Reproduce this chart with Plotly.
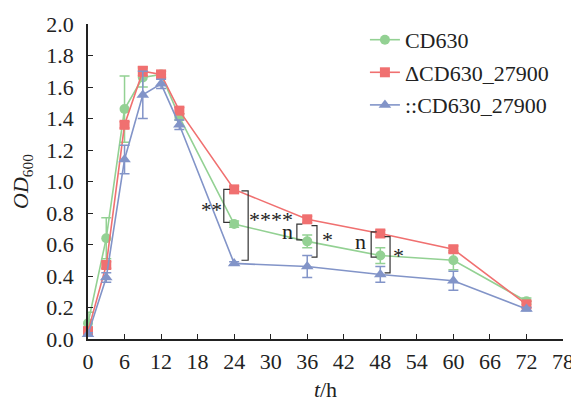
import plotly.graph_objects as go

hours = [0, 3, 6, 9, 12, 15, 24, 36, 48, 60, 72]

wt = [0.10, 0.64, 1.46, 1.66, 1.68, 1.41, 0.73, 0.62, 0.53, 0.50, 0.24]
wt_err = [0.07, 0.13, 0.21, 0.06, 0.02, 0.02, 0.02, 0.04, 0.05, 0.06, 0.02]

ko = [0.05, 0.47, 1.36, 1.70, 1.68, 1.45, 0.95, 0.76, 0.67, 0.57, 0.22]
ko_err = [0.02, 0.02, 0.02, 0.03, 0.02, 0.02, 0.02, 0.02, 0.02, 0.02, 0.02]

comp = [0.03, 0.39, 1.14, 1.55, 1.62, 1.36, 0.48, 0.46, 0.41, 0.37, 0.19]
comp_err = [0.01, 0.03, 0.09, 0.15, 0.03, 0.03, 0.01, 0.07, 0.05, 0.06, 0.01]

names = ["CD630", "ΔCD630_27900", "::CD630_27900"]
x_ticks = list(range(0, 79, 6))
y_ticks = [0.0, 0.2, 0.4, 0.6, 0.8, 1.0, 1.2, 1.4, 1.6, 1.8, 2.0]

FONT = "Liberation Serif"
colors = ["#93D193", "#F07070", "#8294C8"]
symbols = ["circle", "square", "triangle-up"]

fig = go.Figure()
for i, (vals, errs) in enumerate([(wt, wt_err), (ko, ko_err), (comp, comp_err)]):
    fig.add_trace(go.Scatter(
        x=hours, y=vals, name=names[i], mode="lines+markers",
        legendgroup=str(i),
        line=dict(color=colors[i], width=1.6),
        marker=dict(symbol=symbols[i], size=10 if i != 2 else 11, color=colors[i]),
        error_y=dict(type="data", array=errs, visible=True, color=colors[i],
                     thickness=1.5, width=5),
        cliponaxis=False,
    ))

# significance brackets: (t_vertical, t_arm, y_top, y_bottom)
brackets = [
    (22.3, 23.3, 0.95, 0.74),
    (26.3, 25.2, 0.94, 0.50),
    (34.3, 35.2, 0.73, 0.63),
    (37.6, 36.7, 0.72, 0.52),
    (46.5, 47.4, 0.68, 0.52),
    (49.6, 48.7, 0.65, 0.42),
]
for xv, xa, y1, y2 in brackets:
    fig.add_shape(type="path",
                  path=f"M {xa} {y1} L {xv} {y1} L {xv} {y2} L {xa} {y2}",
                  xref="x", yref="y", line=dict(color="#333333", width=1.2))

labels = [
    ("**", 20.3, 0.82, 21),
    ("****", 30.0, 0.76, 22),
    ("n", 32.8, 0.68, 22),
    ("*", 39.3, 0.63, 22),
    ("n", 44.7, 0.62, 22),
    ("*", 51.0, 0.53, 22),
]
for txt, tx, ty, fs in labels:
    fig.add_annotation(x=tx, y=ty, text=txt, showarrow=False,
                       font=dict(family=FONT, size=fs, color="#222222"),
                       xanchor="center", yanchor="middle")

# the page body adds an 8px offset; margins compensate for it
fig.update_layout(
    width=579, height=400,
    margin=dict(l=80, r=24, t=15, b=69),
    paper_bgcolor="white", plot_bgcolor="white",
    font=dict(family=FONT, size=22, color="#222222"),
    legend=dict(x=0.583, y=1.013, xanchor="left", yanchor="top",
                font=dict(family=FONT, size=22, color="#222222"),
                traceorder="grouped", tracegroupgap=1,
                bgcolor="rgba(0,0,0,0)"),
    xaxis=dict(range=[0, 78], tickvals=x_ticks, ticktext=[str(v) for v in x_ticks],
               automargin=False,
               showline=True, linecolor="#222222", linewidth=1.5,
               ticks="inside", ticklen=5, tickcolor="#222222", tickwidth=1.3,
               ticklabelstandoff=2,
               showgrid=False, zeroline=False,
               title=dict(text="<i>t</i>/h", font=dict(family=FONT, size=22), standoff=8)),
    yaxis=dict(range=[0, 2], tickvals=y_ticks, ticktext=[f"{v:.1f}" for v in y_ticks],
               automargin=False,
               showline=True, linecolor="#222222", linewidth=1.5,
               ticks="inside", ticklen=5, tickcolor="#222222", tickwidth=1.3,
               ticklabelstandoff=8,
               showgrid=False, zeroline=False,
               title=dict(text="<i>OD</i><sub>600</sub>", font=dict(family=FONT, size=22), standoff=15)),
)

fig.write_html("out.html")
